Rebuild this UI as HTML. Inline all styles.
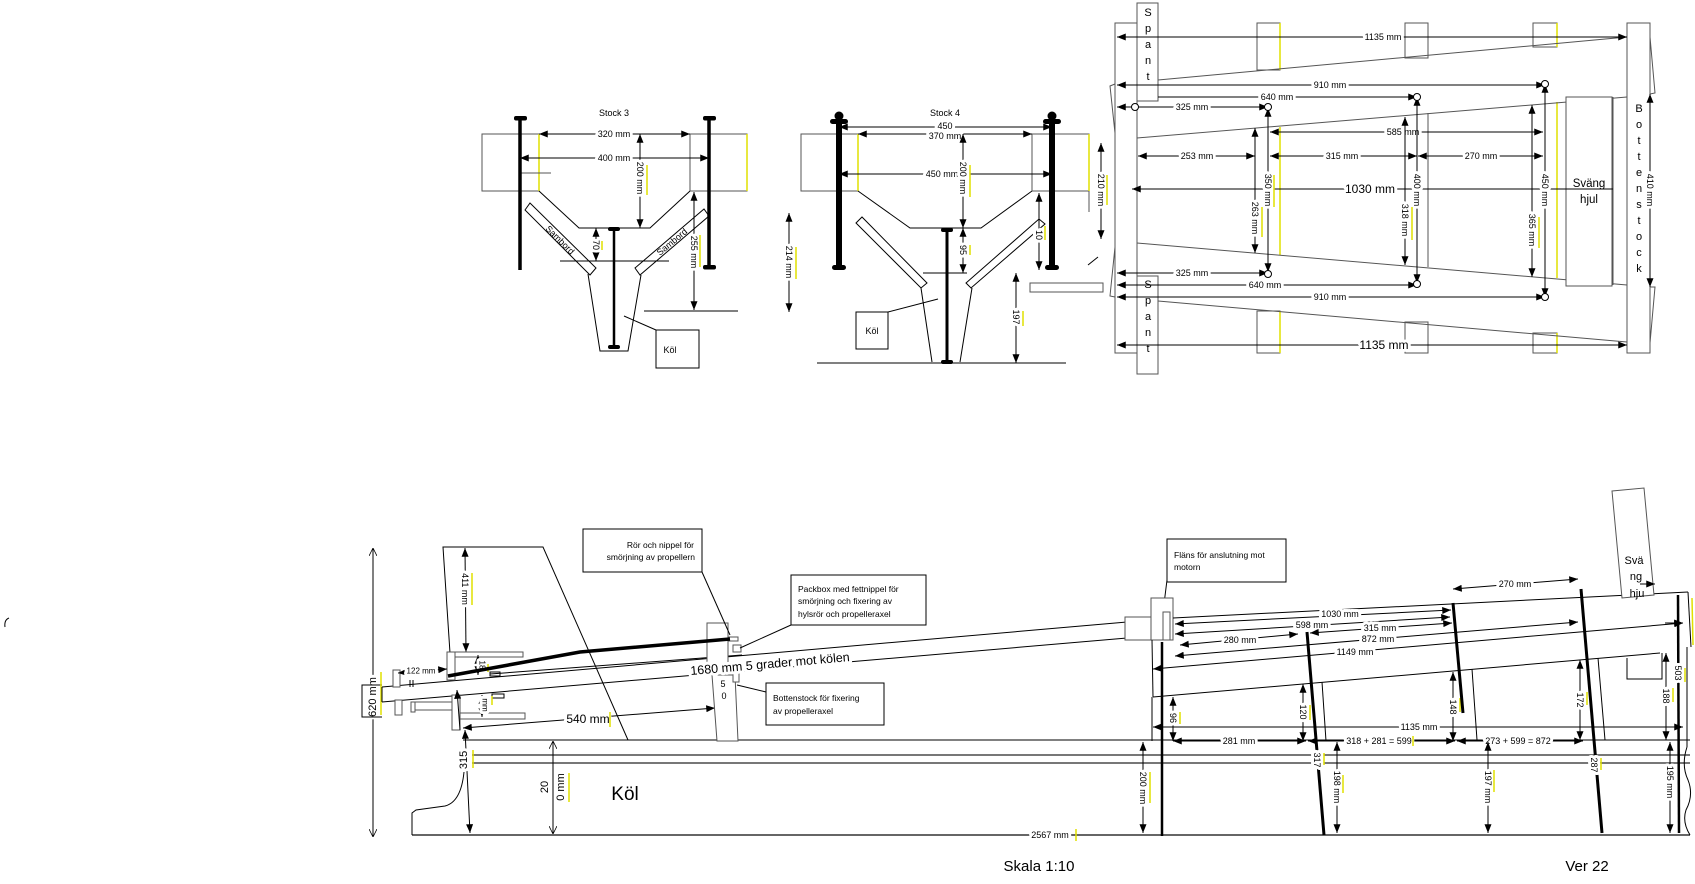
<!DOCTYPE html>
<html><head><meta charset="utf-8"><style>
html,body{margin:0;padding:0;background:#fff}
svg{display:block}
.l{stroke:#000;stroke-width:1;fill:none}
.g{stroke:#555;stroke-width:1;fill:none}
.w{stroke:#555;stroke-width:1;fill:#fff}
.d{stroke:#000;stroke-width:1;fill:none;marker-start:url(#a);marker-end:url(#a)}
.e{stroke:#000;stroke-width:1;fill:none;marker-end:url(#a)}
.s{stroke:#000;stroke-width:1;fill:none;marker-start:url(#a)}
.o{stroke:#000;stroke-width:1;fill:none;marker-start:url(#o);marker-end:url(#o)}
.y{stroke:#e0e000;stroke-width:1.5}
.k{stroke:#000;fill:none}
.c{fill:#fff;stroke:#000;stroke-width:1}
text{font-family:"Liberation Sans",sans-serif;fill:#000}
.t{font-size:9px;text-anchor:middle;dominant-baseline:central;paint-order:stroke;stroke:#fff;stroke-width:6px;stroke-linejoin:round}
.n{font-size:9px;text-anchor:middle;dominant-baseline:central}
.b{font-size:12px}
.sp{font-size:11px;text-anchor:middle;dominant-baseline:central}
.cl{font-size:8.5px}
</style></head><body>
<svg width="1695" height="884" viewBox="0 0 1695 884" xmlns="http://www.w3.org/2000/svg">
<defs>
<marker id="a" viewBox="0 0 10 8" refX="10" refY="4" markerWidth="10" markerHeight="7" markerUnits="userSpaceOnUse" orient="auto-start-reverse"><path d="M0,0L10,4L0,8z" fill="#000"/></marker>
<marker id="o" viewBox="0 0 10 10" refX="10" refY="5" markerWidth="8" markerHeight="8" markerUnits="userSpaceOnUse" orient="auto-start-reverse"><path d="M0,0L10,5L0,10" fill="none" stroke="#000" stroke-width="1"/></marker>
</defs>

<!-- ============ STOCK 3 ============ -->
<text class="n" x="614" y="113">Stock 3</text>
<rect class="g" x="482" y="134" width="57" height="57"/>
<rect class="g" x="690" y="134" width="57" height="57"/>
<line class="y" x1="539" y1="134" x2="539" y2="191"/>
<line class="y" x1="747" y1="134" x2="747" y2="191"/>
<polyline class="l" points="539,191 579,228 650,228 690,191"/>
<polygon class="l" points="525,210 530,203 596,268 590,275"/>
<polygon class="l" points="635,268 640,275 709,216 704,209"/>
<polyline class="l" points="588,274 600,351 628,351 641,275"/>
<line class="l" x1="560" y1="261" x2="669" y2="261"/>
<line class="l" x1="644" y1="311" x2="738" y2="311"/>
<line class="g" x1="520" y1="173" x2="551" y2="173"/>
<rect class="l" x="656" y="330" width="43" height="38"/>
<text class="n" x="670" y="350">Köl</text>
<line class="l" x1="624" y1="316" x2="656" y2="330"/>
<line class="k" x1="520" y1="118" x2="520" y2="270" stroke-width="3.5"/>
<rect x="514" y="116" width="13" height="4.5" rx="2"/>
<line class="k" x1="709" y1="118" x2="709" y2="268" stroke-width="3.5"/>
<rect x="703" y="116" width="13" height="4.5" rx="2"/>
<rect x="703" y="265" width="13" height="4.5" rx="2"/>
<line class="k" x1="614" y1="229" x2="614" y2="347" stroke-width="2.5"/>
<rect x="608" y="227" width="12" height="4" rx="2"/>
<rect x="608" y="345" width="12" height="4" rx="2"/>
<line class="d" x1="539" y1="134" x2="690" y2="134"/><text class="t" x="614" y="134">320 mm</text>
<line class="d" x1="520" y1="158" x2="709" y2="158"/><text class="t" x="614" y="158">400 mm</text>
<line class="d" x1="640" y1="134" x2="640" y2="228"/><text class="t" transform="translate(640,178) rotate(90)">200 mm</text>
<line class="y" x1="647" y1="165" x2="647" y2="195"/>
<line class="d" x1="596" y1="228" x2="596" y2="261"/><text class="t" transform="translate(596,245) rotate(90)">70</text>
<line class="y" x1="602" y1="241" x2="602" y2="250"/>
<line class="d" x1="694" y1="192" x2="694" y2="310"/><text class="t" transform="translate(694,252) rotate(90)">255 mm</text>
<line class="y" x1="700" y1="235" x2="700" y2="267"/>
<text class="n" transform="translate(560,240) rotate(45)">Sambord</text>
<text class="n" transform="translate(672,242) rotate(-40)">Sambord</text>

<!-- ============ STOCK 4 ============ -->
<text class="n" x="945" y="113">Stock 4</text>
<rect class="g" x="801" y="134" width="57" height="57"/>
<rect class="g" x="1032" y="134" width="57" height="57"/>
<line class="g" x1="1089" y1="191" x2="1089" y2="212"/>
<line class="y" x1="858" y1="134" x2="858" y2="191"/>
<line class="y" x1="1089" y1="134" x2="1089" y2="191"/>
<polyline class="l" points="858,191 910,228 981,228 1032,191"/>
<polygon class="l" points="856,223 862,217 927,283 921,288"/>
<polygon class="l" points="966,283 971,288 1045,224 1039,219"/>
<line class="l" x1="921" y1="288" x2="932" y2="362"/>
<line class="l" x1="972" y1="288" x2="960" y2="362"/>
<line class="l" x1="817" y1="363" x2="1066" y2="363"/>
<line class="l" x1="923" y1="273" x2="967" y2="273"/>
<rect class="l" x="856" y="312" width="32" height="37"/>
<text class="n" x="872" y="331">Köl</text>
<line class="l" x1="888" y1="312" x2="938" y2="299"/>
<line class="l" x1="1088" y1="265" x2="1098" y2="257"/>
<rect class="g" x="1030" y="283" width="73" height="9"/>
<line class="k" x1="839" y1="117" x2="839" y2="268" stroke-width="6"/>
<circle cx="839" cy="116" r="4.5"/>
<rect x="830" y="119" width="18" height="5" rx="2.5"/>
<rect x="832" y="265" width="14" height="5" rx="2.5"/>
<line class="k" x1="1052" y1="117" x2="1052" y2="268" stroke-width="6"/>
<circle cx="1052" cy="116" r="4.5"/>
<rect x="1043" y="119" width="18" height="5" rx="2.5"/>
<rect x="1045" y="265" width="14" height="5" rx="2.5"/>
<line class="k" x1="947" y1="230" x2="947" y2="362" stroke-width="3"/>
<rect x="941" y="228" width="12" height="4" rx="2"/>
<rect x="941" y="360" width="12" height="4" rx="2"/>
<line class="d" x1="839" y1="127" x2="1052" y2="127"/><text class="t" x="945" y="126">450</text>
<line class="d" x1="858" y1="134" x2="1032" y2="134"/><text class="t" x="945" y="136">370 mm</text>
<line class="d" x1="839" y1="174" x2="1052" y2="174"/><text class="t" x="942" y="174">450 mm</text>
<line class="d" x1="963" y1="134" x2="963" y2="228"/><text class="t" transform="translate(963,178) rotate(90)">200 mm</text>
<line class="y" x1="970" y1="165" x2="970" y2="197"/>
<line class="d" x1="963" y1="228" x2="963" y2="273"/><text class="t" transform="translate(963,250) rotate(90)">95</text>
<line class="y" x1="970" y1="245" x2="970" y2="255"/>
<line class="d" x1="789" y1="213" x2="789" y2="312"/><text class="t" transform="translate(789,262) rotate(90)">214 mm</text>
<line class="y" x1="796" y1="247" x2="796" y2="279"/>
<line class="d" x1="1039" y1="193" x2="1039" y2="270"/><text class="t" transform="translate(1039,235) rotate(90)">10</text>
<line class="y" x1="1045" y1="226" x2="1045" y2="240"/>
<line class="d" x1="1016" y1="273" x2="1016" y2="363"/><text class="t" transform="translate(1016,317) rotate(90)">197</text>
<line class="y" x1="1023" y1="311" x2="1023" y2="326"/>
<line class="d" x1="1101" y1="143" x2="1101" y2="239"/><text class="t" transform="translate(1101,190) rotate(90)">210 mm</text>
<line class="y" x1="1107" y1="175" x2="1107" y2="205"/>

<!-- ============ PLAN VIEW ============ -->
<rect class="w" x="1115" y="23" width="22" height="330"/>
<rect class="w" x="1627" y="23" width="23" height="330"/>
<rect class="w" x="1257" y="23" width="23" height="47"/>
<rect class="w" x="1257" y="311" width="23" height="42"/>
<rect class="w" x="1405" y="23" width="23" height="35"/>
<rect class="w" x="1405" y="322" width="23" height="31"/>
<rect class="w" x="1533" y="23" width="24" height="24"/>
<rect class="w" x="1533" y="333" width="24" height="20"/>
<line class="y" x1="1280" y1="23" x2="1280" y2="70"/>
<line class="y" x1="1280" y1="311" x2="1280" y2="353"/>
<line class="y" x1="1557" y1="23" x2="1557" y2="47"/>
<line class="y" x1="1557" y1="333" x2="1557" y2="353"/>
<line class="y" x1="1280" y1="127" x2="1280" y2="255"/>
<line class="g" x1="1428" y1="113" x2="1428" y2="267"/>
<line class="y" x1="1557" y1="102" x2="1557" y2="278"/>
<line class="g" x1="1158" y1="80" x2="1627" y2="37"/>
<line class="g" x1="1137" y1="138" x2="1627" y2="97"/>
<line class="g" x1="1137" y1="243" x2="1627" y2="285"/>
<line class="g" x1="1158" y1="301" x2="1627" y2="342"/>
<polyline class="g" points="1115,84 1110,86 1115,133"/>
<polyline class="g" points="1115,297 1110,296 1115,247"/>
<polyline class="g" points="1650,37 1655,93 1650,94"/>
<polyline class="g" points="1650,343 1655,287 1650,287"/>
<rect class="w" x="1566" y="97" width="46" height="189"/>
<line class="g" x1="1613" y1="97" x2="1613" y2="285"/>
<text x="1589" y="187" style="font-size:11.5px;text-anchor:middle">Sväng</text>
<text x="1589" y="203" style="font-size:11.5px;text-anchor:middle">hjul</text>
<g class="sp">
<text x="1639" y="109">B</text><text x="1639" y="125">o</text><text x="1639" y="141">t</text><text x="1639" y="157">t</text><text x="1639" y="173">e</text><text x="1639" y="189">n</text><text x="1639" y="205">s</text><text x="1639" y="221">t</text><text x="1639" y="237">o</text><text x="1639" y="253">c</text><text x="1639" y="269">k</text>
</g>
<rect class="w" x="1137" y="3" width="21" height="98"/>
<rect class="w" x="1137" y="276" width="21" height="98"/>
<g class="sp">
<text x="1148" y="13">S</text><text x="1148" y="29">p</text><text x="1148" y="45">a</text><text x="1148" y="61">n</text><text x="1148" y="77">t</text>
<text x="1148" y="285">S</text><text x="1148" y="301">p</text><text x="1148" y="317">a</text><text x="1148" y="333">n</text><text x="1148" y="349">t</text>
</g>
<line class="d" x1="1117" y1="37" x2="1627" y2="37"/><text class="t" x="1383" y="37">1135 mm</text>
<line class="d" x1="1117" y1="85" x2="1545" y2="85"/><text class="t" x="1330" y="85">910 mm</text>
<line class="e" x1="1158" y1="97" x2="1417" y2="97"/><text class="t" x="1277" y="97">640 mm</text>
<line class="d" x1="1117" y1="107" x2="1268" y2="107"/><text class="t" x="1192" y="107">325 mm</text>
<line class="d" x1="1270" y1="132" x2="1543" y2="132"/><text class="t" x="1403" y="132">585 mm</text>
<line class="d" x1="1138" y1="156" x2="1255" y2="156"/><text class="t" x="1197" y="156">253 mm</text>
<line class="d" x1="1270" y1="156" x2="1417" y2="156"/><text class="t" x="1342" y="156">315 mm</text>
<line class="d" x1="1418" y1="156" x2="1543" y2="156"/><text class="t" x="1481" y="156">270 mm</text>
<line class="s" x1="1132" y1="189" x2="1613" y2="189"/><text class="t b" x="1370" y="189">1030 mm</text>
<line class="d" x1="1268" y1="108" x2="1268" y2="272"/><text class="t" transform="translate(1268,190) rotate(90)">350 mm</text>
<line class="y" x1="1274" y1="175" x2="1274" y2="207"/>
<line class="d" x1="1255" y1="128" x2="1255" y2="253"/><text class="t" transform="translate(1255,218) rotate(90)">263 mm</text>
<line class="y" x1="1262" y1="207" x2="1262" y2="237"/>
<line class="d" x1="1417" y1="97" x2="1417" y2="283"/><text class="t" transform="translate(1417,190) rotate(90)">400 mm</text>
<line class="d" x1="1405" y1="117" x2="1405" y2="265"/><text class="t" transform="translate(1405,220) rotate(90)">318 mm</text>
<line class="y" x1="1412" y1="207" x2="1412" y2="240"/>
<line class="d" x1="1545" y1="84" x2="1545" y2="297"/><text class="t" transform="translate(1545,190) rotate(90)">450 mm</text>
<line class="d" x1="1532" y1="105" x2="1532" y2="277"/><text class="t" transform="translate(1532,230) rotate(90)">365 mm</text>
<line class="y" x1="1539" y1="217" x2="1539" y2="248"/>
<line class="d" x1="1650" y1="94" x2="1650" y2="287"/><text class="t" transform="translate(1650,190) rotate(90)">410 mm</text>
<line class="d" x1="1117" y1="273" x2="1268" y2="273"/><text class="t" x="1192" y="273">325 mm</text>
<line class="d" x1="1117" y1="285" x2="1417" y2="285"/><text class="t" x="1265" y="285">640 mm</text>
<line class="d" x1="1117" y1="297" x2="1545" y2="297"/><text class="t" x="1330" y="297">910 mm</text>
<line class="d" x1="1117" y1="345" x2="1627" y2="345"/><text class="t b" x="1384" y="345">1135 mm</text>
<circle class="c" cx="1135" cy="107" r="3.5"/>
<circle class="c" cx="1268" cy="107" r="3.5"/>
<circle class="c" cx="1417" cy="97" r="3.5"/>
<circle class="c" cx="1545" cy="84" r="3.5"/>
<circle class="c" cx="1268" cy="274" r="3.5"/>
<circle class="c" cx="1417" cy="284" r="3.5"/>
<circle class="c" cx="1545" cy="297" r="3.5"/>

<!-- ============ SIDE VIEW ============ -->
<path class="l" d="M9,618 Q4,620 5,627"/>
<line class="l" x1="463" y1="740" x2="1690" y2="740"/>
<line x1="472" y1="755" x2="1690" y2="755" stroke="#777" stroke-width="2"/>
<line x1="472" y1="763" x2="1690" y2="763" stroke="#777" stroke-width="2"/>
<line x1="412" y1="835" x2="1690" y2="835" stroke="#333" stroke-width="1.5"/>
<path class="l" d="M412,835 L412,813 L416,810 L445,806 Q461,802 464,772"/>
<line class="y" x1="473" y1="750" x2="473" y2="768"/>
<text x="625" y="800" style="font-size:19px;text-anchor:middle">Köl</text>
<line class="o" x1="553" y1="741" x2="553" y2="834"/>
<text class="t" transform="translate(545,787) rotate(-90)" style="font-size:11px">20</text>
<text class="t" transform="translate(561,787) rotate(-90)" style="font-size:11px">0 mm</text>
<line class="y" x1="569" y1="773" x2="569" y2="802"/>
<line class="d" x1="465" y1="730" x2="470" y2="833"/>
<text class="t" transform="translate(464,760) rotate(-90)" style="font-size:11px">315</text>
<line class="o" x1="373" y1="548" x2="373" y2="837"/>
<text class="t" transform="translate(373,697) rotate(-90)" style="font-size:11px">620 mm</text>
<polyline class="l" points="382,685 362,685 362,717 382,717"/>
<line class="y" x1="381" y1="672" x2="381" y2="715"/>
<polyline class="l" points="450,653 443,547 543,547 628,740"/>
<line class="d" x1="465" y1="548" x2="466" y2="652"/>
<text class="t" transform="translate(465,589) rotate(90)">411 mm</text>
<line class="y" x1="472" y1="573" x2="472" y2="605"/>
<line class="l" x1="382" y1="687" x2="1127" y2="622"/>
<line class="l" x1="382" y1="702" x2="1127" y2="638"/>
<line class="l" x1="382" y1="687" x2="382" y2="702"/>
<line class="l" x1="490" y1="674" x2="742" y2="655"/>
<rect class="l" x="490" y="672" width="10" height="4"/>
<rect class="l" x="492" y="694" width="12" height="4"/>
<rect class="w" x="447" y="652" width="8" height="28"/>
<rect class="w" x="455" y="652" width="68" height="5"/>
<rect class="w" x="452" y="695" width="8" height="35"/>
<rect class="w" x="460" y="713" width="65" height="6"/>
<rect class="w" x="413" y="702" width="39" height="8"/>
<rect class="w" x="395" y="700" width="7" height="15"/>
<rect class="w" x="411" y="702" width="4" height="10"/>
<rect class="w" x="393" y="670" width="7" height="17"/>
<line class="l" x1="410" y1="680" x2="410" y2="687"/>
<line class="l" x1="413" y1="680" x2="413" y2="687"/>
<line class="d" x1="398" y1="673" x2="447" y2="669"/><text class="t" x="421" y="671" style="font-size:8px">122 mm</text>
<line class="d" x1="478" y1="655" x2="478" y2="675"/><text class="t" transform="translate(482,665) rotate(90)" style="font-size:8px">18</text>
<line class="d" x1="482" y1="695" x2="482" y2="717"/><text class="t" transform="translate(485,705) rotate(90)" style="font-size:8px">mm</text>
<line class="y" x1="492" y1="696" x2="492" y2="705"/>
<line class="y" x1="488" y1="664" x2="488" y2="672"/>
<line class="s" x1="457" y1="690" x2="460" y2="730"/>
<line class="d" x1="463" y1="728" x2="715" y2="708"/>
<text class="t" x="588" y="719" style="font-size:12px">540 mm</text>
<line class="y" x1="610" y1="712" x2="610" y2="727"/>
<rect class="w" x="707" y="623" width="21" height="52"/>
<polygon class="w" points="712,675 735,675 738,741 717,741"/>
<rect class="w" x="728" y="637" width="10" height="4"/>
<rect class="w" x="733" y="645" width="8" height="7"/>
<rect class="w" x="733" y="672" width="6" height="10"/>
<polyline class="k" points="448,676 580,652 730,639" stroke-width="3.5"/>
<text class="n" x="723" y="684">5</text>
<text class="n" x="724" y="696">0</text>
<text class="t" transform="translate(770,664) rotate(-5)" style="font-size:12.5px">1680 mm 5 grader mot kölen</text>
<rect class="l" x="583" y="529" width="119" height="43"/>
<text class="cl" x="694" y="548" style="text-anchor:end">Rör och nippel för</text>
<text class="cl" x="695" y="560" style="text-anchor:end">smörjning av propellern</text>
<line class="l" x1="702" y1="572" x2="730" y2="635"/>
<rect class="l" x="791" y="575" width="135" height="50"/>
<text class="cl" x="798" y="592">Packbox med fettnippel för</text>
<text class="cl" x="798" y="604">smörjning och fixering av</text>
<text class="cl" x="798" y="617">hylsrör och propelleraxel</text>
<line class="l" x1="791" y1="625" x2="740" y2="648"/>
<rect class="l" x="766" y="683" width="118" height="42"/>
<text class="cl" x="773" y="701">Bottenstock för fixering</text>
<text class="cl" x="773" y="714">av propelleraxel</text>
<line class="l" x1="766" y1="692" x2="737" y2="685"/>
<rect class="l" x="1167" y="539" width="119" height="43"/>
<text class="cl" x="1174" y="558">Fläns för anslutning mot</text>
<text class="cl" x="1174" y="570">motorn</text>
<line class="l" x1="1167" y1="580" x2="1163" y2="612"/>
<rect class="w" x="1125" y="617" width="27" height="23"/>
<rect class="w" x="1151" y="598" width="22" height="42"/>
<rect class="w" x="1163" y="612" width="7" height="28"/>
<line class="l" x1="1152" y1="640" x2="1153" y2="697"/>
<line class="l" x1="1152" y1="697" x2="1152" y2="741"/>
<line class="l" x1="1153" y1="697" x2="1660" y2="653"/>
<line class="l" x1="1173" y1="618" x2="1688" y2="592"/>
<polyline class="l" points="1688,592 1691,647"/>
<line class="l" x1="1687" y1="647" x2="1687" y2="747"/>
<path class="l" d="M1687,747 Q1681,765 1688,780 Q1694,795 1686,810 Q1682,822 1690,835"/>
<line class="y" x1="1692" y1="598" x2="1693" y2="645"/>
<polyline class="l" points="1627,658 1627,679 1662,679 1662,653"/>
<line class="l" x1="1322" y1="682" x2="1326" y2="741"/>
<line class="l" x1="1472" y1="669" x2="1477" y2="740"/>
<line class="l" x1="1598" y1="658" x2="1605" y2="740"/>
<polygon class="w" points="1612,491 1644,488 1654,595 1622,598"/>
<text x="1634" y="564" style="font-size:11px;text-anchor:middle">Svä</text>
<text x="1636" y="580" style="font-size:11px;text-anchor:middle">ng</text>
<text x="1637" y="597" style="font-size:11px;text-anchor:middle">hju</text>
<line class="e" x1="1640" y1="584" x2="1655" y2="584"/>
<line class="d" x1="1175" y1="624" x2="1451" y2="610"/><text class="t" x="1340" y="614">1030 mm</text>
<line class="d" x1="1175" y1="634" x2="1450" y2="617"/><text class="t" x="1312" y="625">598 mm</text>
<line class="d" x1="1310" y1="633" x2="1452" y2="623"/><text class="t" x="1380" y="628">315 mm</text>
<line class="d" x1="1180" y1="645" x2="1298" y2="634"/><text class="t" x="1240" y="640">280 mm</text>
<line class="d" x1="1175" y1="656" x2="1578" y2="622"/><text class="t" x="1378" y="639">872 mm</text>
<line class="d" x1="1153" y1="669" x2="1683" y2="623"/><text class="t" x="1355" y="652">1149 mm</text>
<line class="d" x1="1453" y1="589" x2="1578" y2="579"/><text class="t" x="1515" y="584">270 mm</text>
<line class="d" x1="1153" y1="727" x2="1683" y2="727"/><text class="t" x="1419" y="727">1135 mm</text>
<line class="d" x1="1173" y1="741" x2="1306" y2="741"/><text class="t" x="1239" y="741">281 mm</text>
<line class="d" x1="1308" y1="741" x2="1455" y2="741"/><text class="t" x="1379" y="741">318 + 281 = 599</text>
<line class="y" x1="1413" y1="736" x2="1413" y2="746"/>
<line class="d" x1="1457" y1="741" x2="1583" y2="741"/><text class="t" x="1518" y="741">273 + 599 =  872</text>
<line class="d" x1="1173" y1="697" x2="1173" y2="741"/><text class="t" transform="translate(1173,718) rotate(90)">96</text>
<line class="y" x1="1180" y1="712" x2="1180" y2="724"/>
<line class="d" x1="1303" y1="684" x2="1303" y2="741"/><text class="t" transform="translate(1303,712) rotate(90)">120</text>
<line class="y" x1="1310" y1="705" x2="1310" y2="720"/>
<line class="d" x1="1453" y1="672" x2="1453" y2="741"/><text class="t" transform="translate(1453,707) rotate(90)">148</text>
<line class="y" x1="1460" y1="698" x2="1460" y2="712"/>
<line class="d" x1="1580" y1="660" x2="1580" y2="740"/><text class="t" transform="translate(1580,700) rotate(90)">172</text>
<line class="y" x1="1587" y1="692" x2="1587" y2="705"/>
<line class="d" x1="1666" y1="653" x2="1666" y2="740"/><text class="t" transform="translate(1666,696) rotate(90)">188</text>
<line class="y" x1="1673" y1="688" x2="1673" y2="702"/>
<line class="e" x1="1665" y1="623" x2="1683" y2="623"/>
<line class="d" x1="1143" y1="742" x2="1143" y2="833"/><text class="t" transform="translate(1143,788) rotate(90)">200 mm</text>
<line class="y" x1="1150" y1="772" x2="1150" y2="803"/>
<line class="d" x1="1337" y1="742" x2="1337" y2="833"/><text class="t" transform="translate(1337,787) rotate(90)">198 mm</text>
<line class="y" x1="1343" y1="775" x2="1343" y2="793"/>
<line class="d" x1="1488" y1="742" x2="1488" y2="833"/><text class="t" transform="translate(1488,787) rotate(90)">197 mm</text>
<line class="y" x1="1494" y1="770" x2="1494" y2="792"/>
<line class="d" x1="1670" y1="742" x2="1670" y2="833"/><text class="t" transform="translate(1670,782) rotate(90)">195 mm</text>
<line class="k" x1="1162" y1="642" x2="1162" y2="836" stroke-width="2.5"/>
<line class="k" x1="1307" y1="632" x2="1324" y2="835" stroke-width="3"/>
<line class="k" x1="1453" y1="603" x2="1463" y2="713" stroke-width="3"/>
<line class="k" x1="1581" y1="589" x2="1602" y2="833" stroke-width="3"/>
<line class="k" x1="1678" y1="595" x2="1679" y2="833" stroke-width="2.5"/>
<text class="t" transform="translate(1317,760) rotate(90)">317</text>
<line class="y" x1="1324" y1="753" x2="1324" y2="765"/>
<text class="t" transform="translate(1594,765) rotate(90)">287</text>
<line class="y" x1="1601" y1="758" x2="1601" y2="770"/>
<text class="t" transform="translate(1678,673) rotate(90)">503</text>
<line class="y" x1="1685" y1="668" x2="1685" y2="682"/>
<text class="t" x="1050" y="835">2567 mm</text>
<line class="y" x1="1076" y1="829" x2="1076" y2="841"/>
<text x="1039" y="871" style="font-size:15px;text-anchor:middle">Skala 1:10</text>
<text x="1587" y="871" style="font-size:15px;text-anchor:middle">Ver 22</text>
</svg>
</body></html>
